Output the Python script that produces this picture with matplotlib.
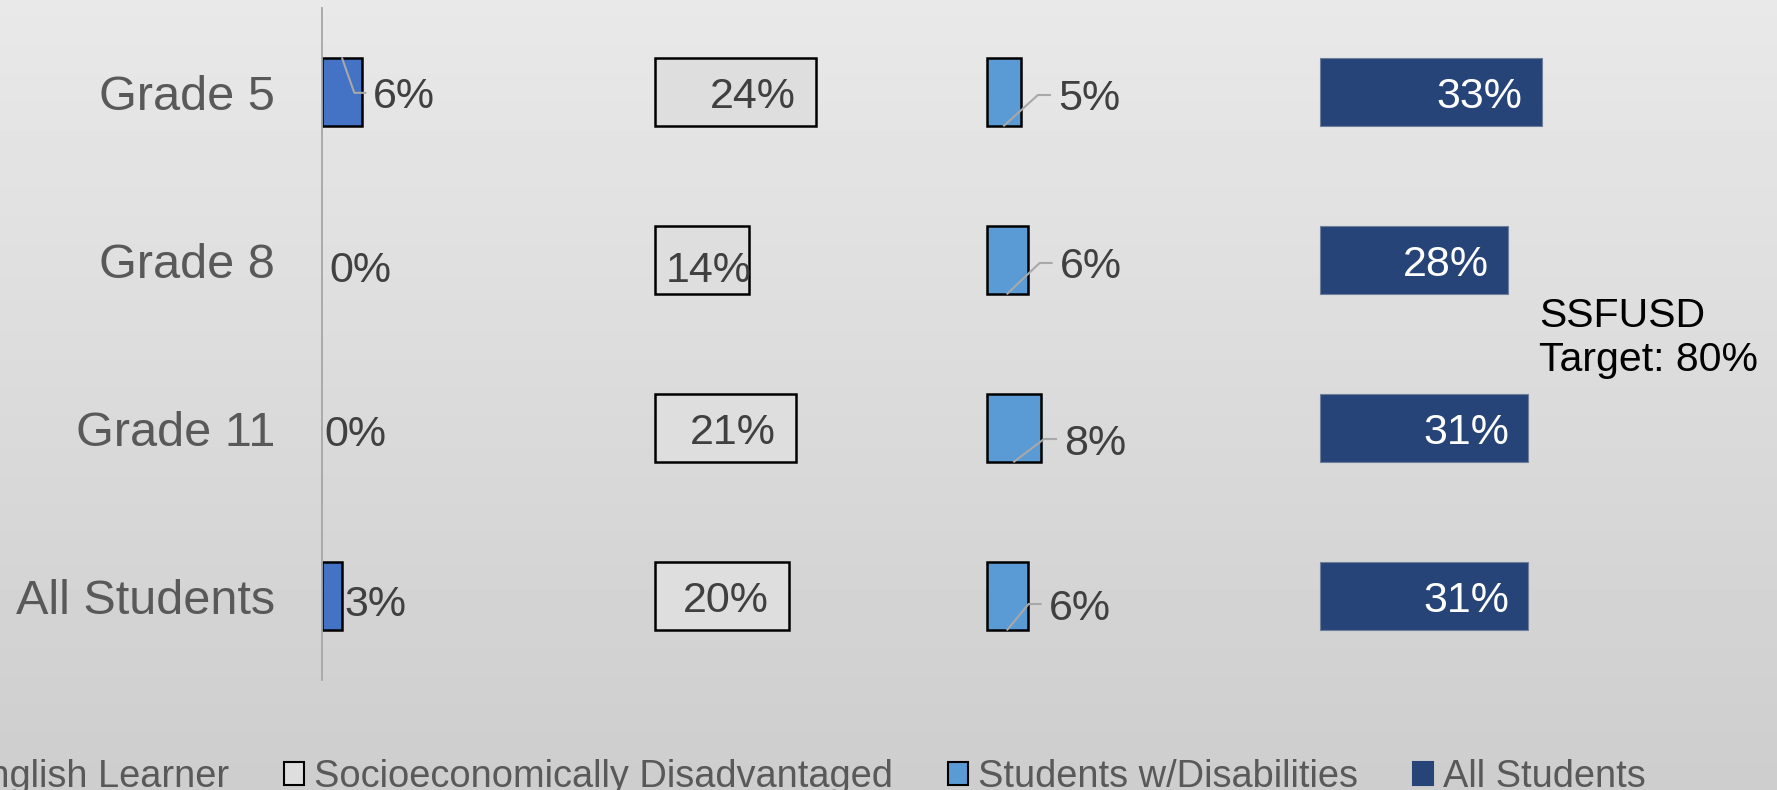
import numpy as np
import matplotlib.pyplot as plt
from matplotlib.patches import Patch

plt.rcParams['font.family'] = ['Liberation Sans', 'DejaVu Sans']

# data (percent meeting standard)
categories = ['Grade 5', 'Grade 8', 'Grade 11', 'All Students']
series_names = ['English Learner', 'Socioeconomically Disadvantaged',
                'Students w/Disabilities', 'All Students']
english_learner = [6, 0, 0, 3]
socio_disadv = [24, 14, 21, 20]
disabilities = [5, 6, 8, 6]
all_students = [33, 28, 31, 31]
target_note = 'SSFUSD\nTarget: 80%'

# layout / style
W, H = 1777, 790
x0_px, top_px, bot_px = 322, 8, 680
px_per_unit = 6.72
panel_offsets = [0, 49.5, 99, 148.5]
fills = ['#4472c4', '#dedede', '#5b9bd5', '#264478']
edges = ['black', 'black', 'black', '#6f7f99']
edge_w = [1.8, 1.8, 1.8, 0.8]
bar_h = 0.4

fig = plt.figure(figsize=(W / 100, H / 100), dpi=100)

# soft grey gradient background
bg = fig.add_axes([0, 0, 1, 1], zorder=-10)
grad = np.linspace(0.912, 0.805, 256).reshape(-1, 1)
bg.imshow(grad, cmap='gray', vmin=0, vmax=1, aspect='auto', extent=[0, 1, 0, 1])
bg.axis('off')

ax = fig.add_axes([x0_px / W, (H - bot_px) / H, (W - x0_px) / W, (bot_px - top_px) / H])
ax.patch.set_alpha(0)
ax.set_xlim(0, (W - x0_px) / px_per_unit)
ax.set_ylim(len(categories) - 0.5, -0.5)
ux = 1 / px_per_unit                              # data units per pixel, x
uy = len(categories) / (bot_px - top_px)          # data units per pixel, y

y = np.arange(len(categories))
all_series = [english_learner, socio_disadv, disabilities, all_students]
for vals, off, fc, ec, lw in zip(all_series, panel_offsets, fills, edges, edge_w):
    # zero-length bars get no outline (otherwise a stray line shows)
    lws = [lw if v > 0 else 0 for v in vals]
    ax.barh(y, vals, left=off, height=bar_h, color=fc, edgecolor=ec, linewidth=lws, zorder=2)

lab_fs = 31
lab_col = '#404040'
lead_col = '#a8a8a8'

# English Learner: labels outside the bar
el_dx = [11, 7, 2.5, 2]
el_dy = [0, 7, 3, 5]
for i, v in enumerate(english_learner):
    end = panel_offsets[0] + v
    ax.text(end + el_dx[i] * ux, i + el_dy[i] * uy, f'{v}%', ha='left', va='center_baseline',
            fontsize=lab_fs, color=lab_col, zorder=4)
# leader line for Grade 5
lx = english_learner[0] + el_dx[0] * ux
ax.plot([english_learner[0] / 2, lx - 19 * ux, lx - 8 * ux],
        [-bar_h / 2, 0.005, 0.005], color=lead_col, lw=1.5, zorder=3)

# Socioeconomically Disadvantaged: labels inside end
sed_dx = [-20, 3, -20, -20]
sed_dy = [0, 6, 0, 0]
for i, v in enumerate(socio_disadv):
    end = panel_offsets[1] + v
    ax.text(end + sed_dx[i] * ux, i + sed_dy[i] * uy, f'{v}%', ha='right', va='center_baseline',
            fontsize=lab_fs, color=lab_col, zorder=4)

# Students w/Disabilities: outside with leader lines
swd_dx = [37, 32, 23, 21]
swd_dy = [3, 3, 11, 8]
for i, v in enumerate(disabilities):
    end = panel_offsets[2] + v
    lx = end + swd_dx[i] * ux
    ly = i + swd_dy[i] * uy
    ax.text(lx, ly, f'{v}%', ha='left', va='center_baseline',
            fontsize=lab_fs, color=lab_col, zorder=4)
    ax.plot([panel_offsets[2] + v / 2, lx - 20 * ux, lx - 8 * ux],
            [i + bar_h / 2, ly, ly], color=lead_col, lw=1.5, zorder=3)

# All Students: white labels inside end
for i, v in enumerate(all_students):
    end = panel_offsets[3] + v
    ax.text(end - 19 * ux, i, f'{v}%', ha='right', va='center_baseline',
            fontsize=lab_fs, color='white', zorder=4)

ax.set_yticks(y, categories)
ax.set_xticks([])
ax.tick_params(axis='y', length=0, pad=33.8, labelsize=35, labelcolor='#595959')
for s in ['top', 'right', 'bottom']:
    ax.spines[s].set_visible(False)
ax.spines['left'].set_color('#a6a6a6')
ax.spines['left'].set_linewidth(1.3)

fig.text(1539 / W, 1 - 297 / H, target_note, ha='left', va='top',
         fontsize=29.5, color='black', linespacing=1.2)

handles = [Patch(facecolor=fc, edgecolor='black' if k < 3 else fc, linewidth=1.5)
           for k, fc in enumerate(fills)]
fs_leg = 27.4
em = fs_leg * 100 / 72
fig.legend(handles, series_names, loc='center', bbox_to_anchor=(789.5 / W, 13 / H),
           ncol=4, frameon=False, fontsize=fs_leg, labelcolor='#595959',
           handlelength=20 / em, handleheight=20 / em, handletextpad=10 / em,
           columnspacing=55 / em)

fig.savefig('out.png', dpi=100)
